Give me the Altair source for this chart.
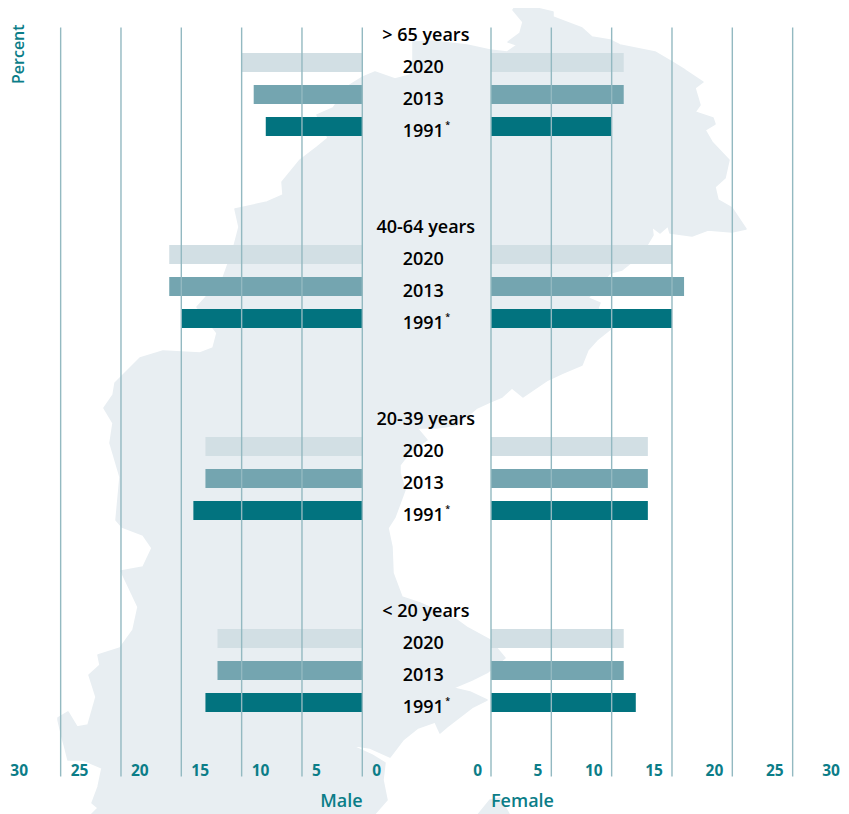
import altair as alt
import pandas as pd

# ---- values ----
age_groups = ["> 65 years", "40-64 years", "20-39 years", "< 20 years"]
years = ["2020", "2013", "1991"]
male_2020 = [10, 16, 13, 12]
male_2013 = [9, 16, 13, 12]
male_1991 = [8, 15, 14, 13]
female_2020 = [11, 15, 13, 11]
female_2013 = [11, 16, 13, 11]
female_1991 = [10, 15, 13, 12]
ticks = [0, 5, 10, 15, 20, 25, 30]
bar_colors = ["#d2dfe4", "#74a5b0", "#02737f"]

# backdrop silhouette (page pixels)
map_main = [
    (515, 7), (532, 7), (553, 12), (553, 17), (582, 28), (592, 37), (610, 40), (620, 45),
    (655, 52), (672, 62), (685, 70), (703, 82), (695, 88), (700, 105), (695, 112), (713, 118),
    (715, 124), (705, 130), (712, 142), (729, 160), (725, 178), (715, 187), (718, 200),
    (732, 208), (746, 229), (732, 232), (708, 230), (692, 236), (670, 233), (668, 226),
    (660, 233), (652, 227), (653, 235), (647, 245), (632, 262), (622, 270), (610, 273),
    (600, 285), (588, 298), (600, 303), (598, 308), (612, 328), (597, 340), (588, 350),
    (582, 365), (563, 373), (548, 380), (523, 397), (512, 388), (502, 397), (490, 402),
    (477, 408), (457, 425), (437, 428), (417, 428), (427, 440), (410, 452), (400, 465),
    (400, 473), (405, 490), (395, 517), (388, 528), (392, 547), (393, 573), (402, 597),
    (420, 603), (440, 612), (457, 620), (468, 628), (490, 640), (505, 658), (488, 672),
    (472, 680), (453, 688), (470, 692), (487, 700), (473, 707), (447, 727), (440, 733),
    (435, 722), (418, 728), (403, 740), (390, 757), (370, 748), (350, 745), (372, 755),
    (385, 763), (383, 780), (387, 800), (373, 816), (90, 816), (98, 808), (92, 803),
    (98, 787), (102, 768), (83, 760), (68, 760), (65, 748), (62, 737), (58, 720), (58, 718),
    (68, 712), (77, 727), (88, 725), (96, 697), (89, 675), (100, 665), (98, 655), (120, 648),
    (133, 630), (138, 607), (121, 571), (143, 567), (152, 548), (143, 535), (122, 527),
    (116, 520), (120, 477), (110, 443), (113, 423), (104, 408), (113, 395), (115, 383),
    (140, 358), (163, 351), (200, 353), (213, 348), (217, 333), (197, 307), (223, 278),
    (233, 250), (239, 227), (235, 209), (267, 202), (283, 195), (282, 182), (300, 160),
    (317, 147), (328, 138), (317, 115), (333, 108), (350, 85), (363, 77), (375, 72),
    (395, 79), (410, 75), (413, 60), (413, 42), (433, 41), (467, 45), (490, 50), (507, 52),
    (517, 45), (508, 42), (520, 33), (523, 22), (513, 10), (515, 7),
]
map_island = [(477, 816), (490, 800), (500, 798), (508, 812), (510, 816), (477, 816)]

# ---- layout constants ----
UNIT = 12.066          # pixels per percent point
GAP = 128.7 / UNIT     # central gap, in percent points
ZERO_PAGE = 362.3
PAGE_MARGIN = 8
W, H = 833, 806
TEAL = "#0b7d88"
RULE = "#93b9c1"
FONT = "Open Sans"
ROWS = list(range(-1, 21))
ROW_STEP = 32
X_MIN = (PAGE_MARGIN - ZERO_PAGE) / UNIT
X_MAX = (PAGE_MARGIN + W - ZERO_PAGE) / UNIT

x_scale = alt.Scale(domain=[X_MIN, X_MAX], nice=False, zero=False)
y_scale = alt.Scale(
    domain=ROWS,
    range=[6.5, 6.5 + ROW_STEP * len(ROWS)],
    paddingInner=13 / 32,
    paddingOuter=6.5 / 32,
)
X = lambda f: alt.X(f, scale=x_scale, axis=None)
Y = alt.Y("row:O", scale=y_scale, axis=None)

# ---- tables ----
series = {
    ("Male", "2020"): male_2020, ("Male", "2013"): male_2013, ("Male", "1991"): male_1991,
    ("Female", "2020"): female_2020, ("Female", "2013"): female_2013, ("Female", "1991"): female_1991,
}
bars = []
for (sex, year), vals in series.items():
    for g, v in enumerate(vals):
        row = 6 * g + years.index(year)
        if sex == "Male":
            bars.append(dict(year=year, row=row, start=-v, end=0))
        else:
            bars.append(dict(year=year, row=row, start=GAP, end=GAP + v))
bars = pd.DataFrame(bars)

grid = pd.DataFrame(
    [dict(pos=-t, label=str(t), side="Male") for t in ticks]
    + [dict(pos=GAP + t, label=str(t), side="Female") for t in ticks]
)
visible_grid = grid[(grid.pos > X_MIN) & (grid.pos < X_MAX)]
male_grid = grid[grid.side == "Male"]
female_grid = grid[(grid.side == "Female") & (grid.label != "30")]
female_last = grid[(grid.side == "Female") & (grid.label == "30")]

labels = []
for g, name in enumerate(age_groups):
    labels.append(dict(text=name, row=6 * g - 1, pos=GAP / 2 - 0.07))
    for i, y in enumerate(years):
        labels.append(dict(text=y, row=6 * g + i, pos=GAP / 2 - 0.28))
labels = pd.DataFrame(labels)
stars = pd.DataFrame([dict(text="*", row=6 * g + 2, pos=GAP / 2 + 1.75) for g in range(4)])

# ---- layers ----
feature = {
    "type": "Feature",
    "properties": {},
    "geometry": {
        "type": "MultiPolygon",
        "coordinates": [[[list(p) for p in map_main]], [[list(p) for p in map_island]]],
    },
}
backdrop = (
    alt.Chart(alt.Data(values=[feature]))
    .mark_geoshape(fill="#e8eef2", stroke="#e8eef2", strokeWidth=1.5, strokeJoin="round")
    .project(type="identity", scale=1, translate=[-PAGE_MARGIN, -PAGE_MARGIN])
)

bar_layer = alt.Chart(bars).mark_bar().encode(
    x=X("start:Q"),
    x2="end:Q",
    y=Y,
    color=alt.Color("year:N", scale=alt.Scale(domain=years, range=bar_colors), legend=None),
)

rules = alt.Chart(visible_grid).mark_rule(color=RULE, strokeWidth=1.4).encode(
    x=X("pos:Q"), y=alt.value(19.5), y2=alt.value(768.5)
)

tick_style = dict(font=FONT, fontSize=15.5, fontWeight=700, color=TEAL, baseline="middle")
male_ticks = alt.Chart(male_grid).mark_text(align="left", dx=10, **tick_style).encode(
    x=X("pos:Q"), y=alt.value(763), text="label:N"
)
female_ticks = alt.Chart(female_grid).mark_text(align="right", dx=-9, **tick_style).encode(
    x=X("pos:Q"), y=alt.value(763), text="label:N"
)
female_end_tick = alt.Chart(female_last).mark_text(align="right", dx=-13, **tick_style).encode(
    x=X("pos:Q"), y=alt.value(763), text="label:N"
)

text_style = dict(font=FONT, fontSize=18, fontWeight=600, color="#000000", baseline="middle", dy=5)
label_layer = alt.Chart(labels).mark_text(**text_style).encode(
    x=X("pos:Q"), y=Y, text="text:N"
)
star_layer = alt.Chart(stars).mark_text(
    font=FONT, fontSize=9, fontWeight=600, color="#000000", baseline="middle", dy=-2
).encode(x=X("pos:Q"), y=Y, text="text:N")

side_titles = pd.DataFrame([
    dict(text="Male", pos=0.03, a="right"),
    dict(text="Female", pos=GAP, a="left"),
])
male_title = alt.Chart(side_titles[side_titles.a == "right"]).mark_text(
    font=FONT, fontSize=18, fontWeight=600, color=TEAL, align="right", baseline="middle"
).encode(x=X("pos:Q"), y=alt.value(794), text="text:N")
female_title = alt.Chart(side_titles[side_titles.a == "left"]).mark_text(
    font=FONT, fontSize=18, fontWeight=600, color=TEAL, align="left", baseline="middle"
).encode(x=X("pos:Q"), y=alt.value(794), text="text:N")

percent = alt.Chart(pd.DataFrame({"text": ["Percent"]})).mark_text(
    font=FONT, fontSize=16, fontWeight=600, color=TEAL, angle=270, align="left", baseline="alphabetic"
).encode(x=alt.value(15.5), y=alt.value(76), text="text:N")

chart = alt.layer(
    backdrop, bar_layer, rules, male_ticks, female_ticks, female_end_tick, label_layer, star_layer,
    male_title, female_title, percent,
).properties(
    width=W, height=H, padding=0, autosize=alt.AutoSizeParams(type="none")
).configure_view(stroke=None)

chart.save("out.html", embed_options={"renderer": "svg", "actions": False})
